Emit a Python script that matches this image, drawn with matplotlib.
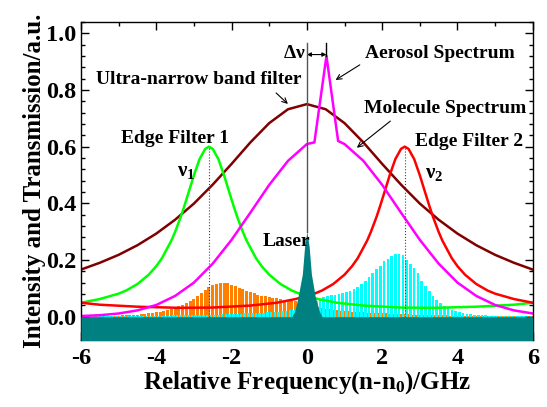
import numpy as np
import matplotlib
matplotlib.use('Agg')
import matplotlib.pyplot as plt
from matplotlib.ticker import MultipleLocator, AutoMinorLocator

plt.rcParams['font.family'] = ['Liberation Serif', 'DejaVu Serif']
plt.rcParams['font.weight'] = 'bold'
plt.rcParams['axes.unicode_minus'] = False
plt.rcParams['mathtext.fontset'] = 'custom'
plt.rcParams['mathtext.rm'] = 'Liberation Serif:bold'
plt.rcParams['mathtext.it'] = 'Liberation Serif:bold'
plt.rcParams['mathtext.bf'] = 'Liberation Serif:bold'

# --- filter transmission curves ---
unb_x = [-6.0, -5.5, -5.0, -4.5, -4.0, -3.5, -3.0, -2.5, -2.0, -1.5, -1.0, -0.5, 0.0,
         0.5, 1.0, 1.5, 2.0, 2.5, 3.0, 3.5, 4.0, 4.5, 5.0, 5.5, 6.0]
unb_y = [0.166, 0.190, 0.218, 0.252, 0.293, 0.342, 0.399, 0.466, 0.539, 0.615, 0.683, 0.732, 0.750,
         0.732, 0.683, 0.615, 0.539, 0.466, 0.399, 0.342, 0.293, 0.252, 0.218, 0.190, 0.166]

edge1_x = [-6.0, -5.5, -5.0, -4.8, -4.5, -4.2, -4.0, -3.85, -3.6, -3.5, -3.35, -3.25, -3.1, -3.0,
           -2.85, -2.7, -2.6, -2.5, -2.35, -2.2, -2.1, -1.95, -1.85, -1.7, -1.6, -1.35, -1.2,
           -1.0, -0.7, -0.4, -0.2, 0.3, 0.8, 1.5, 2.5, 3.4, 4.5, 5.5, 6.0]
edge1_y = [0.049, 0.062, 0.081, 0.092, 0.115, 0.148, 0.178, 0.206, 0.268, 0.299, 0.352, 0.392, 0.456, 0.499,
           0.556, 0.592, 0.600, 0.592, 0.556, 0.499, 0.456, 0.392, 0.352, 0.299, 0.268, 0.206, 0.178,
           0.148, 0.115, 0.092, 0.081, 0.062, 0.049, 0.039, 0.032, 0.031, 0.035, 0.042, 0.049]

edge2_x = [-6.0, -5.5, -4.5, -3.4, -2.5, -1.5, -0.8, -0.3, 0.2, 0.4, 0.7, 1.0, 1.2, 1.35, 1.6,
           1.7, 1.85, 1.95, 2.1, 2.2, 2.35, 2.5, 2.6, 2.7, 2.85, 3.0, 3.1, 3.25, 3.35, 3.5,
           3.6, 3.85, 4.0, 4.2, 4.5, 4.8, 5.0, 5.5, 6.0]
edge2_y = [0.049, 0.042, 0.035, 0.031, 0.032, 0.039, 0.049, 0.062, 0.081, 0.092, 0.115, 0.148, 0.178, 0.206, 0.268,
           0.299, 0.352, 0.392, 0.456, 0.499, 0.556, 0.592, 0.600, 0.592, 0.556, 0.499, 0.456, 0.392, 0.352, 0.299,
           0.268, 0.206, 0.178, 0.148, 0.115, 0.092, 0.081, 0.062, 0.049]

# --- molecule + aerosol spectrum ---
spec_x = [-6.0, -5.5, -5.0, -4.5, -4.0, -3.5, -3.0, -2.5, -2.0, -1.5, -1.0, -0.5, 0.0, 0.2,
          0.52, 0.83, 1.0, 1.5, 2.0, 2.5, 3.0, 3.5, 4.0, 4.5, 5.0, 5.5, 6.0]
spec_y = [0.002, 0.005, 0.011, 0.022, 0.041, 0.073, 0.120, 0.187, 0.271, 0.367, 0.465, 0.550, 0.609, 0.615,
          0.920, 0.620, 0.609, 0.550, 0.465, 0.367, 0.271, 0.187, 0.120, 0.073, 0.041, 0.022, 0.011]

# --- laser line ---
laser_x = [-6.0, -0.40, -0.32, -0.23, -0.12, -0.06, 0.0, 0.06, 0.12, 0.22, 0.33, 0.40, 6.0]
laser_y = [0.0, 0.0, 0.019, 0.072, 0.150, 0.248, 0.300, 0.248, 0.150, 0.072, 0.019, 0.0, 0.0]

# --- rotational Raman lines, 0.1 GHz grid from -6 to 6 ---
line_pos = np.linspace(-6, 6, 121)
stokes = [0.001, 0.001, 0.001, 0.001, 0.002, 0.002, 0.002, 0.002, 0.003, 0.003,
          0.003, 0.004, 0.004, 0.005, 0.006, 0.007, 0.008, 0.010, 0.011, 0.013,
          0.015, 0.018, 0.021, 0.024, 0.028, 0.032, 0.037, 0.042, 0.048, 0.054,
          0.062, 0.072, 0.083, 0.094, 0.105, 0.112, 0.116, 0.119, 0.119, 0.117,
          0.113, 0.108, 0.102, 0.096, 0.091, 0.086, 0.082, 0.078, 0.074, 0.071,
          0.068, 0.066, 0.064, 0.062, 0.060, 0.058, 0.056, 0.054, 0.052, 0.050,
          0.045, 0.040, 0.036, 0.033, 0.030, 0.028, 0.026, 0.024, 0.022, 0.021,
          0.020, 0.019, 0.018, 0.017, 0.016, 0.015, 0.014, 0.013, 0.013, 0.012,
          0.011, 0.011, 0.010, 0.010, 0.009, 0.009, 0.008, 0.008, 0.007, 0.007,
          0.006, 0.006, 0.005, 0.005, 0.005, 0.004, 0.004, 0.004, 0.003, 0.003,
          0.003, 0.003, 0.002, 0.002, 0.002, 0.002, 0.002, 0.002, 0.001, 0.001,
          0.001, 0.001, 0.001, 0.001, 0.001, 0.001, 0.001, 0.001, 0.001, 0.001,
          0.001]
anti_stokes = [0.001, 0.001, 0.001, 0.001, 0.001, 0.001, 0.001, 0.001, 0.001, 0.001,
               0.001, 0.001, 0.001, 0.001, 0.002, 0.002, 0.002, 0.002, 0.002, 0.003,
               0.003, 0.003, 0.003, 0.003, 0.004, 0.004, 0.004, 0.004, 0.005, 0.005,
               0.005, 0.005, 0.006, 0.006, 0.006, 0.007, 0.007, 0.008, 0.008, 0.009,
               0.009, 0.010, 0.010, 0.011, 0.011, 0.012, 0.013, 0.013, 0.014, 0.015,
               0.016, 0.017, 0.018, 0.019, 0.020, 0.022, 0.023, 0.025, 0.027, 0.030,
               0.035, 0.045, 0.055, 0.062, 0.068, 0.072, 0.075, 0.077, 0.080, 0.083,
               0.087, 0.092, 0.098, 0.106, 0.116, 0.127, 0.140, 0.154, 0.168, 0.178,
               0.195, 0.205, 0.213, 0.221, 0.222, 0.219, 0.201, 0.187, 0.172, 0.154,
               0.125, 0.107, 0.089, 0.074, 0.060, 0.048, 0.036, 0.031, 0.025, 0.020,
               0.016, 0.012, 0.010, 0.008, 0.006, 0.005, 0.004, 0.004, 0.003, 0.003,
               0.002, 0.002, 0.002, 0.002, 0.002, 0.001, 0.001, 0.001, 0.001, 0.001,
               0.001]

nu1, nu2 = -2.6, 2.6
nu_aer = 0.52

fig = plt.figure(figsize=(5.47, 4.07), dpi=100)
ax = fig.add_axes([0.148, 0.165, 0.826, 0.781])

ax.bar(line_pos, stokes, width=0.08, color='#ff8000', lw=0, zorder=1)
ax.bar(line_pos + 0.05, anti_stokes, width=0.07, color='#00ffff', lw=0, zorder=1)

ax.plot(unb_x, unb_y, color='#800000', lw=1.8, zorder=2)
ax.plot(edge1_x, edge1_y, color='#00ff00', lw=1.8, zorder=2)
ax.plot(edge2_x, edge2_y, color='#ff0000', lw=1.8, zorder=2)
ax.plot(spec_x, spec_y, color='#ff00ff', lw=1.8, zorder=2)

ax.fill_between(laser_x, laser_y, -0.2, color='#008080', lw=0, zorder=3)

# reference marks
ax.plot([nu1, nu1], [0, 0.6], color='#444444', lw=0.8, ls=':', zorder=2)
ax.plot([nu2, nu2], [0, 0.6], color='#444444', lw=0.8, ls=':', zorder=2)
ax.plot([0, 0], [0.3, 0.966], color='#555555', lw=1.0, zorder=4)
ax.plot([nu_aer, nu_aer], [0.92, 0.966], color='black', lw=1.0, zorder=4)
ax.annotate('', xy=(0, 0.925), xytext=(nu_aer, 0.925),
            arrowprops=dict(arrowstyle='<|-|>', color='black', lw=0.8,
                            mutation_scale=6, shrinkA=0, shrinkB=0))
ax.text(-0.04, 0.93, r'$\Delta\nu$', ha='right', va='center', fontsize=14)

arrow = dict(arrowstyle='->', color='black', lw=0.8, mutation_scale=9)
ax.annotate('Aerosol Spectrum', xy=(0.70, 0.83), xytext=(3.53, 0.93),
            ha='center', va='center', fontsize=14, fontweight='bold',
            arrowprops=dict(arrow, relpos=(0.0, 0.0)))
ax.annotate('Ultra-narrow band filter', xy=(-0.45, 0.744), xytext=(-2.86, 0.836),
            ha='center', va='center', fontsize=14, fontweight='bold',
            arrowprops=dict(arrow, relpos=(0.85, 0.0)))
ax.annotate('Molecule Spectrum', xy=(1.27, 0.59), xytext=(3.66, 0.736),
            ha='center', va='center', fontsize=14, fontweight='bold',
            arrowprops=dict(arrow, relpos=(0.2, 0.0)))
ax.text(-3.5, 0.628, 'Edge Filter 1', ha='center', va='center', fontsize=14, fontweight='bold')
ax.text(4.3, 0.618, 'Edge Filter 2', ha='center', va='center', fontsize=14, fontweight='bold')
ax.text(-3.2, 0.513, r'$\nu_1$', ha='center', va='center', fontsize=15)
ax.text(3.37, 0.508, r'$\nu_2$', ha='center', va='center', fontsize=15)
ax.text(-0.55, 0.266, 'Laser', ha='center', va='center', fontsize=14, fontweight='bold')

ax.set_xlim(-6, 6)
ax.set_ylim(-0.082, 1.04)
ax.xaxis.set_major_locator(MultipleLocator(2))
ax.xaxis.set_minor_locator(AutoMinorLocator(2))
ax.set_yticks([0.0, 0.2, 0.4, 0.6, 0.8, 1.0])
ax.set_yticklabels(['0.0', '0.2', '0.4', '0.6', '0.8', '1.0'])
ax.yaxis.set_minor_locator(AutoMinorLocator(5))
ax.tick_params(which='both', direction='in', top=True, right=True, labelsize=17.5, width=1)
ax.tick_params(which='major', length=6)
ax.tick_params(which='minor', length=3)
ax.tick_params(axis='x', pad=6)
for lab in ax.get_xticklabels() + ax.get_yticklabels():
    lab.set_fontweight('bold')
for sp in ax.spines.values():
    sp.set_linewidth(1.0)

ax.set_xlabel(r'Relative Frequency(n-n$_0$)/GHz', fontsize=18, fontweight='bold', labelpad=0)
ax.set_ylabel('Intensity and Transmission/a.u.', fontsize=18, fontweight='bold', labelpad=0)

fig.savefig('out.png', dpi=100)
